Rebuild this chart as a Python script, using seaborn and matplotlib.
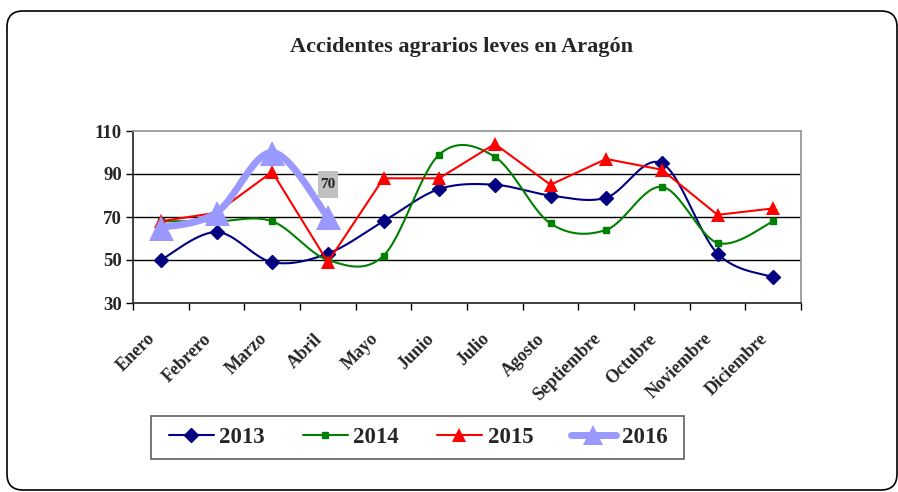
import numpy as np
import pandas as pd
import matplotlib
matplotlib.use("Agg")
import matplotlib.pyplot as plt
import matplotlib.transforms as mtransforms
from matplotlib.patches import FancyBboxPatch, Rectangle
from matplotlib.path import Path
from matplotlib.lines import Line2D
import seaborn as sns

months = ["Enero", "Febrero", "Marzo", "Abril", "Mayo", "Junio", "Julio",
          "Agosto", "Septiembre", "Octubre", "Noviembre", "Diciembre"]
v2013 = [50, 63, 49, 53, 68, 83, 85, 80, 79, 95, 53, 42]
v2014 = [68, 68, 68, 50, 52, 99, 98, 67, 64, 84, 58, 68]
v2015 = [68, 72, 91, 49, 88, 88, 104, 85, 97, 92, 71, 74]
v2016 = [65, 72, 100, 70]
y_ticks = [30, 50, 70, 90, 110]

sns.set_theme(style="white")
plt.rcParams["font.family"] = ["Liberation Serif", "DejaVu Serif"]
plt.rcParams["font.weight"] = "bold"

W, H = 898, 492


def smooth(values, n=30):
    """Catmull-Rom curve through the points (spreadsheet-style smoothed line)."""
    p = np.asarray(values, dtype=float)
    x = np.arange(len(p), dtype=float)
    pts = np.column_stack([x, p])
    ext = np.vstack([pts[0], pts, pts[-1]])
    out = []
    for i in range(len(pts) - 1):
        p0, p1, p2, p3 = ext[i], ext[i + 1], ext[i + 2], ext[i + 3]
        c1 = p1 + (p2 - p0) / 6.0
        c2 = p2 - (p3 - p1) / 6.0
        t = np.linspace(0, 1, n, endpoint=(i == len(pts) - 2))[:, None]
        seg = ((1 - t) ** 3) * p1 + 3 * ((1 - t) ** 2) * t * c1 \
            + 3 * (1 - t) * t ** 2 * c2 + t ** 3 * p2
        out.append(seg)
    out = np.vstack(out)
    return pd.DataFrame({"x": out[:, 0], "y": out[:, 1]})


def label_box(x0, y0, width, height, mutation_size):
    """Tall, narrow rectangle behind a data label."""
    padx = 0.17 * mutation_size
    pady = 0.45 * mutation_size
    x0, y0 = x0 - padx, y0 - pady
    x1, y1 = x0 + width + 2 * padx, y0 + height + 2 * pady
    return Path([(x0, y0), (x1, y0), (x1, y1), (x0, y1), (x0, y0)], closed=True)


fig = plt.figure(figsize=(W / 100, H / 100), dpi=100)
ax = fig.add_axes([133 / W, 1 - 303 / H, (801 - 133) / W, (303 - 131) / H])

# outer rounded frame
frame = FancyBboxPatch((0.07, 0.02), 8.90, 4.79,
                       boxstyle="round,pad=0,rounding_size=0.16",
                       transform=fig.dpi_scale_trans, fc="none", ec="black",
                       lw=1.2, zorder=0)
fig.patches.append(frame)

xs = np.arange(len(months))
c13, c14, c15, c16 = "#000080", "#008000", "#FF0000", "#9999FF"

# 2013 smoothed
sns.lineplot(data=smooth(v2013), x="x", y="y", ax=ax, color=c13, lw=1.5,
             sort=False, estimator=None, zorder=3)
ax.plot(xs, v2013, ls="none", marker="D", ms=7.5, color=c13, zorder=4)

# 2014 smoothed
sns.lineplot(data=smooth(v2014), x="x", y="y", ax=ax, color=c14, lw=1.5,
             sort=False, estimator=None, zorder=3)
ax.plot(xs, v2014, ls="none", marker="s", ms=4, color=c14, zorder=4)

# 2015 straight segments
df15 = pd.DataFrame({"x": xs, "y": v2015})
sns.lineplot(data=df15, x="x", y="y", ax=ax, color=c15, lw=1.5,
             marker="^", markersize=9.5, markeredgewidth=0, zorder=5)

# 2016 smoothed, thick
sns.lineplot(data=smooth(v2016), x="x", y="y", ax=ax, color=c16, lw=5,
             sort=False, estimator=None, zorder=6, solid_capstyle="round")
ax.plot(np.arange(len(v2016)), v2016, ls="none", marker="^", ms=18,
        color=c16, markeredgewidth=0, zorder=7)

# value label on the last 2016 point
ax.annotate(f"{v2016[-1]}", (len(v2016) - 1, v2016[-1]), xytext=(0, 23.5),
            textcoords="offset points", ha="center", va="center",
            fontsize=11, fontweight="bold",
            bbox=dict(boxstyle=label_box, fc="#C0C0C0", ec="none"),
            zorder=8)

ax.set_xlim(-0.5, len(months) - 0.5)
ax.set_ylim(y_ticks[0], y_ticks[-1])
ax.set_yticks(y_ticks)
ax.set_yticklabels([str(t) for t in y_ticks], fontsize=13.5, fontweight="bold")
ax.set_xticks(xs)
ax.set_xticklabels(months, rotation=45, ha="right", va="center",
                   rotation_mode="anchor", fontsize=13, fontweight="bold")
ax.set_xticks(np.arange(-0.5, len(months)), minor=True)
ax.tick_params(axis="x", which="major", length=0, pad=24)
ax.tick_params(axis="x", which="minor", length=5, width=1, color="black",
               direction="out", bottom=True)
ax.tick_params(axis="y", length=5, width=1, color="black", direction="out",
               left=True, pad=3)
shift = mtransforms.ScaledTranslation(-0.08, 0, fig.dpi_scale_trans)
for lab in ax.get_xticklabels():
    lab.set_transform(lab.get_transform() + shift)

ax.set_xlabel("")
ax.set_ylabel("")
for y in y_ticks[1:-1]:
    ax.axhline(y, color="black", lw=1, zorder=1)
ax.spines["left"].set_color("#303030")
ax.spines["bottom"].set_color("#303030")
ax.spines["top"].set_color("#999999")
ax.spines["right"].set_color("#999999")
for s in ax.spines.values():
    s.set_linewidth(1.3)

fig.text(461 / W, 1 - 47 / H, "Accidentes agrarios leves en Aragón",
         ha="center", va="center", fontsize=16, fontweight="bold")

handles = [
    Line2D([], [], color=c13, lw=1.5, marker="D", ms=7.5),
    Line2D([], [], color=c14, lw=1.5, marker="s", ms=4),
    Line2D([], [], color=c15, lw=1.5, marker="^", ms=10, markeredgewidth=0),
    Line2D([], [], color=c16, lw=5, marker="^", ms=14, markeredgewidth=0,
           solid_capstyle="round"),
]
leg = fig.legend(handles, ["2013", "2014", "2015", "2016"], loc="center",
                 bbox_to_anchor=(418 / W, 1 - 437.5 / H), ncol=4,
                 frameon=False,
                 prop={"family": "Liberation Serif", "weight": "bold", "size": 16.5},
                 handlelength=1.96, handletextpad=0.25, columnspacing=1.65,
                 borderpad=0, borderaxespad=0)

# legend frame
fig.patches.append(Rectangle((150.5 / W, 1 - 459 / H), (684 - 150.5) / W,
                             (459 - 416) / H, transform=fig.transFigure,
                             fc="none", ec="#606060", lw=1.2, zorder=1))

fig.savefig("out.png", dpi=100)
